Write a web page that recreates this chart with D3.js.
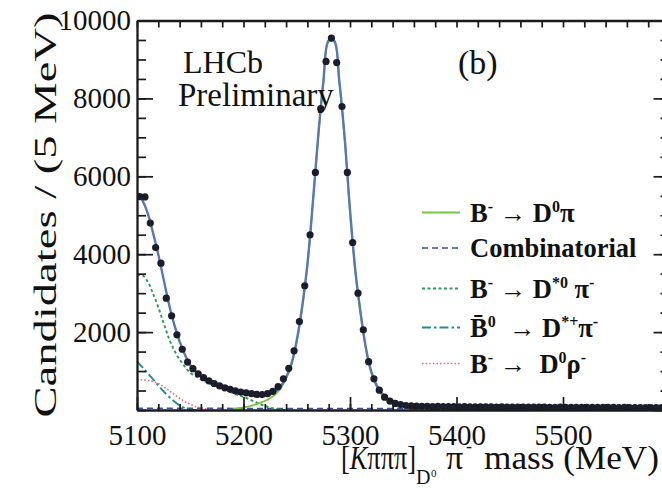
<!DOCTYPE html>
<html>
<head>
<meta charset="utf-8">
<script src="https://cdn.jsdelivr.net/npm/d3@7"></script>
<style>
  body { margin: 0; background: #fff; }
  svg { display: block; }
  text { font-family: "Liberation Serif", "Times New Roman", serif; fill: #111; white-space: pre; }
</style>
</head>
<body>
<script>
// 5 MeV bins, centres 5102.5 ... 5597.5
const binCenters = d3.range(5102.5, 5600, 5);
const candidates = [
  5480, 5470, 4800, 4170, 3770, 2870, 2420, 1930, 1560, 1230,
  1060, 930, 830, 750, 680, 620, 570, 530, 490, 460,
  440, 420, 400, 395, 420, 480, 600, 800, 1070, 1520,
  2270, 3190, 4500, 6100, 7740, 8950, 9550, 8920, 7790, 6100,
  4300, 3000, 2060, 1240, 800, 510, 330, 230, 170, 140,
  115, 105, 100, 96, 94, 90, 92, 88, 86, 87,
  84, 85, 82, 80, 82, 79, 80, 77, 78, 76,
  77, 74, 75, 73, 74, 72, 73, 71, 70, 72,
  69, 70, 68, 69, 67, 68, 66, 67, 65, 66,
  64, 65, 63, 64, 62, 63, 62, 61, 62, 60
];

// fit components, values every 5 MeV from the start mass
const signalStart = 5190;
const signal = [
  35, 50, 70, 95, 130, 180, 230, 300, 400, 560,
  800, 1150, 1750, 2600, 3700, 5250, 6950, 8400, 9450, 9450,
  8400, 6950, 5100, 3550, 2450, 1550, 950, 600, 390, 260,
  190, 130, 95, 70, 55, 45, 38, 32, 28, 24,
  20, 17, 15, 13, 11, 9, 8, 6, 5, 4, 3, 2, 1
];
const dstar0Start = 5100;
const dstar0 = [
  3470, 3460, 3300, 2990, 2640, 2230, 1840, 1530, 1300, 1110,
  955, 860, 785, 720, 660, 608, 555, 508, 432, 382,
  336, 280, 220, 160, 105, 60, 30, 10, 0
];
const dstarPlusStart = 5100;
const dstarPlus = [1250, 1100, 950, 790, 630, 480, 340, 220, 120, 50, 10, 0];
const rhoStart = 5100;
const rho = [780, 775, 760, 730, 680, 600, 500, 400, 300, 215, 145, 90, 50, 25, 10, 0];
const combMass = [5100, 5200, 5300, 5400, 5500, 5600];
const comb = [45, 40, 38, 36, 34, 32];

const xTicks = [5100, 5200, 5300, 5400, 5500];
const yTicks = [2000, 4000, 6000, 8000, 10000];

const legendLabels = [
  [["B"], ["-", "sup"], [" \u2192 "], ["D"], ["0", "sup"], ["\u03c0"]],
  [["Combinatorial"]],
  [["B"], ["-", "sup"], [" \u2192 "], ["D"], ["*0", "sup"], [" \u03c0"], ["-", "sup"]],
  [["B\u0304"], ["0", "sup"], ["  \u2192 "], ["D"], ["*+", "sup"], ["\u03c0"], ["-", "sup"]],
  [["B"], ["-", "sup"], [" \u2192 "], [" D"], ["0", "sup"], ["\u03c1"], ["-", "sup"]]
];

// styles
const serif = '"Liberation Serif", "Times New Roman", serif';
const styles = {
  signal: {stroke: "#7cc242", dash: null, width: 1.8},
  comb: {stroke: "#3c4f9e", dash: "6,4", width: 1.6},
  dstar0: {stroke: "#2f9a5c", dash: "3,2.5", width: 1.9},
  dstarPlus: {stroke: "#2a878e", dash: "9,3,2.5,3", width: 1.9},
  rho: {stroke: "#e2707c", dash: "1.6,2", width: 1.6}
};
const legendOrder = ["signal", "comb", "dstar0", "dstarPlus", "rho"];
const legendBase = [221.5, 257, 297.5, 336.5, 372.5];

const W = 662, H = 488;
const x = d3.scaleLinear().domain([5100, 5600]).range([137, 669.5]);
const y = d3.scaleLinear().domain([0, 10000]).range([410, 20.5]);

const svg = d3.select("body").append("svg").attr("width", W).attr("height", H);

svg.append("clipPath").attr("id", "plot")
  .append("rect").attr("x", 137).attr("y", 20).attr("width", 540).attr("height", 391);

const toPts = (start, vals) => vals.map((v, i) => [start + 5 * i, v]);
const at = (start, vals, m) => {
  const i = Math.round((m - start) / 5);
  return i >= 0 && i < vals.length ? vals[i] : 0;
};
const combAt = d3.scaleLinear().domain(combMass).range(comb);

const grid = d3.range(5100, 5601, 5);
const total = grid.map(m => [m,
  combAt(m) + at(signalStart, signal, m) + at(dstar0Start, dstar0, m) +
  at(dstarPlusStart, dstarPlus, m) + at(rhoStart, rho, m)]);

const series = {
  comb: combMass.map((m, i) => [m, comb[i]]),
  rho: toPts(rhoStart, rho),
  dstarPlus: toPts(dstarPlusStart, dstarPlus),
  dstar0: toPts(dstar0Start, dstar0),
  signal: toPts(signalStart, signal)
};

const line = d3.line()
  .x(d => x(d[0]))
  .y(d => y(d[1]))
  .curve(d3.curveCatmullRom.alpha(0.5));

const plot = svg.append("g").attr("clip-path", "url(#plot)");

["comb", "rho", "dstarPlus", "dstar0", "signal"].forEach(k => {
  plot.append("path")
    .attr("d", line(series[k]))
    .attr("fill", "none")
    .attr("stroke", styles[k].stroke)
    .attr("stroke-width", styles[k].width)
    .attr("stroke-dasharray", styles[k].dash);
});

plot.append("path")
  .attr("d", line(total))
  .attr("fill", "none")
  .attr("stroke", "#5878b0")
  .attr("stroke-width", 2.4);

plot.selectAll("circle")
  .data(binCenters.map((m, i) => [m, candidates[i]]))
  .join("circle")
  .attr("cx", d => x(d[0]))
  .attr("cy", d => y(d[1]))
  .attr("r", 3.6)
  .attr("fill", "#1b1e2a");

// axes
function styleAxis(g, keepDomain) {
  g.attr("font-size", 29).attr("color", "#1a1a1a");
  g.selectAll("text").style("font-family", serif);
  g.selectAll(".tick line").attr("stroke-width", 1.7);
  if (keepDomain) g.select(".domain").attr("stroke-width", 2.3);
  else g.select(".domain").remove();
}
const xMinor = d3.range(5100, 5601, 20);
const yMinor = d3.range(0, 10001, 500);

svg.append("g").attr("transform", "translate(0,410)")
  .call(d3.axisBottom(x).tickValues(xMinor).tickSize(-6).tickFormat(""))
  .call(g => styleAxis(g, false));
svg.append("g").attr("transform", "translate(0,410)")
  .call(d3.axisBottom(x).tickValues(xTicks).tickSizeInner(-13).tickSizeOuter(0)
    .tickPadding(14).tickFormat(d3.format("d")))
  .call(g => styleAxis(g, true));

svg.append("g").attr("transform", "translate(0,20.5)")
  .call(d3.axisTop(x).tickValues(xMinor).tickSizeInner(-7).tickSizeOuter(0).tickFormat(""))
  .call(g => styleAxis(g, true));

svg.append("g").attr("transform", "translate(137,0)")
  .call(d3.axisLeft(y).tickValues(yMinor).tickSize(-9).tickFormat(""))
  .call(g => styleAxis(g, false));
svg.append("g").attr("transform", "translate(137,0)")
  .call(d3.axisLeft(y).tickValues(yTicks).tickSizeInner(-16).tickSizeOuter(0)
    .tickPadding(6).tickFormat(d3.format("d")))
  .call(g => styleAxis(g, true));

svg.append("g").attr("transform", "translate(669.5,0)")
  .call(d3.axisRight(y).tickValues(yMinor).tickSize(-9).tickFormat(""))
  .call(g => styleAxis(g, false));
svg.append("g").attr("transform", "translate(669.5,0)")
  .call(d3.axisRight(y).tickValues(yTicks.concat([0])).tickSizeInner(-16).tickSizeOuter(0).tickFormat(""))
  .call(g => styleAxis(g, true));

// axis titles
svg.append("text")
  .attr("transform", "translate(56,215) rotate(-90)")
  .attr("text-anchor", "middle")
  .attr("font-size", 31)
  .attr("textLength", 405)
  .attr("lengthAdjust", "spacingAndGlyphs")
  .text("Candidates / (5 MeV)");

const xt = svg.append("g").attr("font-size", 34);
xt.append("text").attr("x", 341).attr("y", 469)
  .attr("textLength", 75).attr("lengthAdjust", "spacingAndGlyphs")
  .call(t => {
    t.append("tspan").text("[");
    t.append("tspan").attr("font-style", "italic").text("K");
    t.append("tspan").text("\u03c0\u03c0\u03c0]");
  });
xt.append("text").attr("x", 416).attr("y", 484).attr("font-size", 20).text("D");
xt.append("text").attr("x", 431).attr("y", 477).attr("font-size", 11).text("0");
xt.append("text").attr("x", 446).attr("y", 469).text("\u03c0");
xt.append("text").attr("x", 466).attr("y", 452).attr("font-size", 18).text("-");
xt.append("text").attr("x", 484).attr("y", 469)
  .attr("textLength", 175).attr("lengthAdjust", "spacingAndGlyphs")
  .text("mass (MeV)");

// labels
svg.append("text").attr("x", 183).attr("y", 73).attr("font-size", 32).attr("fill", "#2a2620").text("LHCb");
svg.append("text").attr("x", 178).attr("y", 106).attr("font-size", 33).text("Preliminary");
svg.append("text").attr("x", 458).attr("y", 74).attr("font-size", 34).attr("fill", "#2a2620").text("(b)");

// legend
const legend = svg.append("g");
legendOrder.forEach((k, i) => {
  const by = legendBase[i];
  legend.append("line")
    .attr("x1", 422).attr("x2", 460)
    .attr("y1", by - 9).attr("y2", by - 9)
    .attr("stroke", styles[k].stroke)
    .attr("stroke-width", styles[k].width)
    .attr("stroke-dasharray", styles[k].dash);
  const t = legend.append("text")
    .attr("x", 470).attr("y", by)
    .attr("font-size", 26.5).attr("font-weight", "bold");
  let shift = 0;
  legendLabels[i].forEach(([s, kind]) => {
    const up = kind === "sup" ? -10 : 0;
    t.append("tspan")
      .attr("dy", up - shift)
      .attr("font-size", kind === "sup" ? 16 : null)
      .text(s);
    shift = up;
  });
});
</script>
</body>
</html>
